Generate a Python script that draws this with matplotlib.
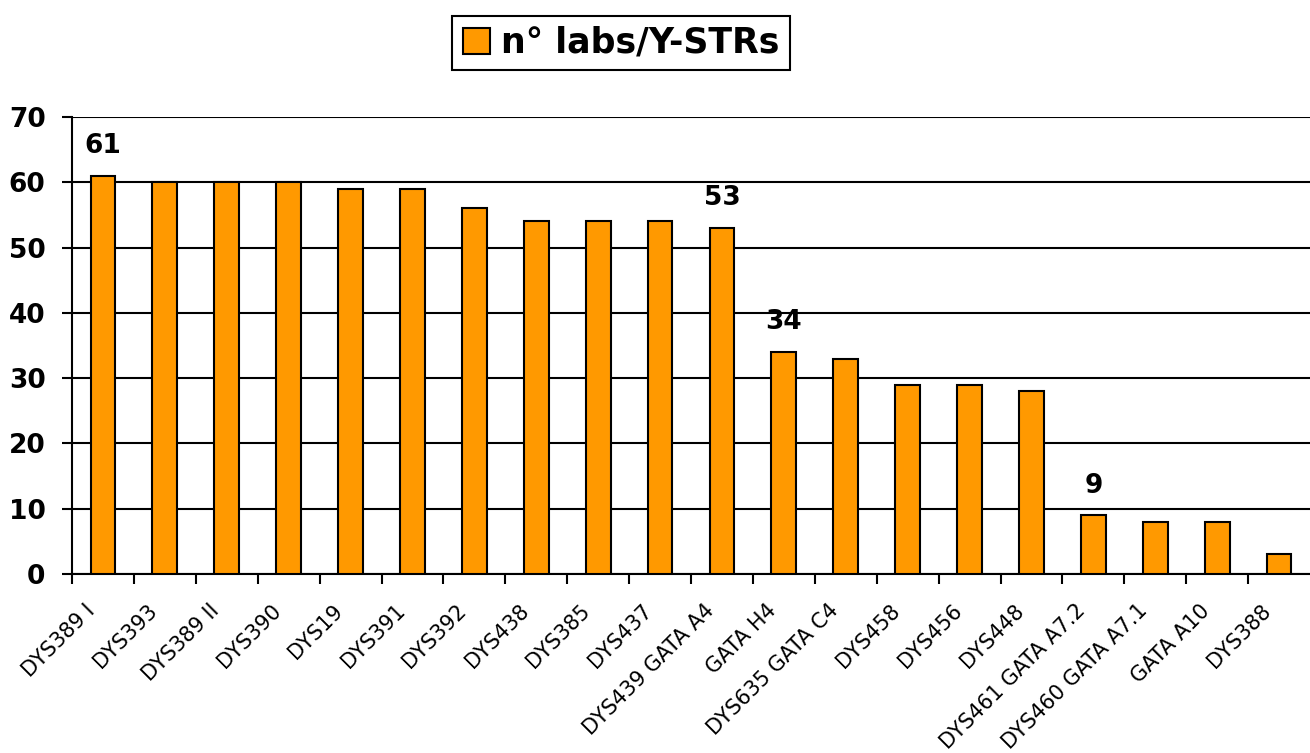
import matplotlib
matplotlib.use('Agg')
import matplotlib.pyplot as plt
from matplotlib.patches import Patch
from matplotlib.transforms import ScaledTranslation

markers = ['DYS389 I', 'DYS393', 'DYS389 II', 'DYS390', 'DYS19', 'DYS391',
           'DYS392', 'DYS438', 'DYS385', 'DYS437', 'DYS439 GATA A4', 'GATA H4',
           'DYS635 GATA C4', 'DYS458', 'DYS456', 'DYS448', 'DYS461 GATA A7.2',
           'DYS460 GATA A7.1', 'GATA A10', 'DYS388']
n_labs = [61, 60, 60, 60, 59, 59, 56, 54, 54, 54, 53, 34, 33, 29, 29, 28, 9, 8, 8, 3]
annotated = ['DYS389 I', 'DYS439 GATA A4', 'GATA H4', 'DYS461 GATA A7.2']
legend_label = 'n° labs/Y-STRs'

BAR = '#FF9900'

fig = plt.figure(figsize=(13.1, 7.53), dpi=100)
ax = fig.add_axes([72 / 1310, 1 - 574 / 753, 1 - 72 / 1310, (574 - 117) / 753])

x = list(range(len(markers)))
ax.bar(x, n_labs, width=0.4, color=BAR, edgecolor='black', linewidth=1.5, zorder=3)

for i, (m, v) in enumerate(zip(markers, n_labs)):
    if m in annotated:
        ax.annotate(str(v), (i, v), xytext=(0, 12), textcoords='offset points',
                    ha='center', va='bottom', fontsize=19, fontweight='bold')

ax.set_xlim(-0.5, len(markers) - 0.5)
ax.set_ylim(0, 70)
ax.set_yticks(range(0, 71, 10))
ax.yaxis.grid(True, color='black', linewidth=1.5, zorder=0)
ax.set_axisbelow(True)

for s in ['top', 'right']:
    ax.spines[s].set_visible(False)
ax.spines['left'].set_linewidth(1.5)
ax.spines['bottom'].set_linewidth(1.5)

ax.tick_params(axis='y', length=7, width=1.5, pad=12, labelsize=19)
for lbl in ax.get_yticklabels():
    lbl.set_fontweight('bold')

ax.set_xticks(x)
ax.set_xticklabels(markers, rotation=45, ha='right', rotation_mode='anchor', fontsize=15)
ax.tick_params(axis='x', which='major', length=0, pad=19)
ax.set_xticks([i - 0.5 for i in x], minor=True)
ax.tick_params(axis='x', which='minor', length=7, width=1.5)
for lbl in ax.get_xticklabels():
    lbl.set_transform(lbl.get_transform() + ScaledTranslation(-0.18, 0, fig.dpi_scale_trans))

handle = Patch(facecolor=BAR, edgecolor='black', linewidth=1.5)
leg = fig.legend([handle], [legend_label], loc='center',
                 bbox_to_anchor=(621 / 1310, 1 - 43 / 753),
                 prop={'size': 25, 'weight': 'bold'}, fancybox=False,
                 handlelength=0.8, handleheight=0.8, handletextpad=0.3,
                 borderpad=0.3, borderaxespad=0, framealpha=1)
leg.get_frame().set_edgecolor('black')
leg.get_frame().set_linewidth(1.5)

fig.savefig('out.png', dpi=100)
